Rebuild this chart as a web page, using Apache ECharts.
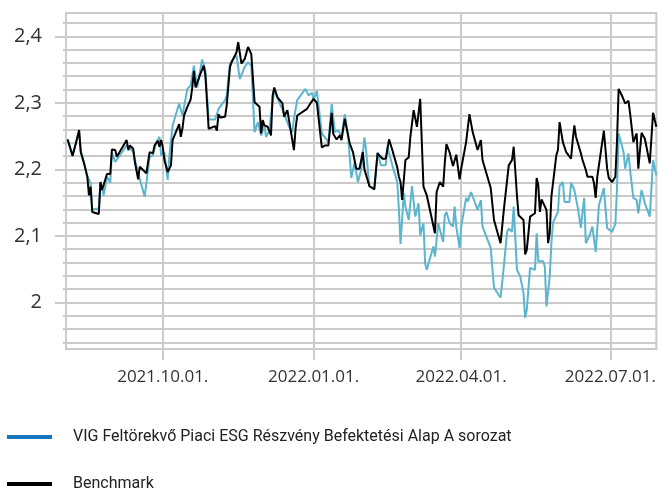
<!DOCTYPE html>
<html>
<head>
<meta charset="utf-8">
<script src="https://cdn.jsdelivr.net/npm/echarts@6/dist/echarts.min.js"></script>
<style>
html,body{margin:0;padding:0;background:#fff;}
#chart{width:659px;height:489px;}
</style>
</head>
<body>
<div id="chart"></div>
<script>
const fundName = 'VIG Feltörekvő Piaci ESG Részvény Befektetési Alap A sorozat';
const benchName = 'Benchmark';

const xTickDates = ['2021-10-01', '2022-01-01', '2022-04-01', '2022-07-01'];
const yLabelValues = [2, 2.1, 2.2, 2.3, 2.4];
const yGridValues = [1.94, 1.96, 1.98, 2.00, 2.02, 2.04, 2.06, 2.08, 2.10, 2.12, 2.14, 2.16, 2.18, 2.20,
  2.22, 2.24, 2.26, 2.28, 2.30, 2.32, 2.34, 2.36, 2.38, 2.40, 2.42];

const benchDates = [
'2021-08-04','2021-08-07','2021-08-09','2021-08-11','2021-08-12','2021-08-14','2021-08-16','2021-08-17','2021-08-18','2021-08-19',
'2021-08-23','2021-08-24','2021-08-25','2021-08-28','2021-08-30','2021-08-31','2021-09-02','2021-09-03','2021-09-09','2021-09-10',
'2021-09-11','2021-09-13','2021-09-14','2021-09-16','2021-09-17','2021-09-19','2021-09-21','2021-09-23','2021-09-25','2021-09-26',
'2021-09-28','2021-09-29','2021-09-30','2021-10-01','2021-10-02','2021-10-04','2021-10-06','2021-10-07','2021-10-09','2021-10-11',
'2021-10-12','2021-10-13','2021-10-14','2021-10-16','2021-10-18','2021-10-19','2021-10-20','2021-10-21','2021-10-24','2021-10-26',
'2021-10-27','2021-10-29','2021-11-02','2021-11-03','2021-11-04','2021-11-05','2021-11-08','2021-11-09','2021-11-10','2021-11-11',
'2021-11-12','2021-11-15','2021-11-16','2021-11-17','2021-11-18','2021-11-20','2021-11-22','2021-11-24','2021-11-26','2021-11-29',
'2021-11-30','2021-12-01','2021-12-02','2021-12-04','2021-12-06','2021-12-07','2021-12-08','2021-12-10','2021-12-13','2021-12-14',
'2021-12-15','2021-12-16','2021-12-20','2021-12-21','2021-12-22','2021-12-28','2021-12-29','2021-12-30','2022-01-01','2022-01-03',
'2022-01-06','2022-01-08','2022-01-10','2022-01-12','2022-01-13','2022-01-15','2022-01-17','2022-01-18','2022-01-20','2022-01-23',
'2022-01-25','2022-01-27','2022-01-29','2022-01-31','2022-02-01','2022-02-04','2022-02-07','2022-02-09','2022-02-12','2022-02-14',
'2022-02-16','2022-02-18','2022-02-21','2022-02-22','2022-02-23','2022-02-24','2022-02-26','2022-02-28','2022-03-01','2022-03-03',
'2022-03-05','2022-03-07','2022-03-09','2022-03-11','2022-03-16','2022-03-17','2022-03-19','2022-03-21','2022-03-22','2022-03-23',
'2022-03-25','2022-03-27','2022-03-29','2022-03-31','2022-04-01','2022-04-04','2022-04-06','2022-04-08','2022-04-11','2022-04-13',
'2022-04-14','2022-04-19','2022-04-21','2022-04-25','2022-04-27','2022-04-30','2022-05-02','2022-05-03','2022-05-05','2022-05-06',
'2022-05-09','2022-05-10','2022-05-11','2022-05-13','2022-05-16','2022-05-17','2022-05-18','2022-05-19','2022-05-20','2022-05-23',
'2022-05-24','2022-05-25','2022-05-26','2022-05-29','2022-05-30','2022-05-31','2022-06-01','2022-06-02','2022-06-04','2022-06-07',
'2022-06-08','2022-06-09','2022-06-10','2022-06-13','2022-06-14','2022-06-16','2022-06-17','2022-06-20','2022-06-21','2022-06-22',
'2022-06-23','2022-06-27','2022-06-29','2022-06-30','2022-07-02','2022-07-04','2022-07-05','2022-07-06','2022-07-08','2022-07-10',
'2022-07-12','2022-07-13','2022-07-15','2022-07-17','2022-07-18','2022-07-20','2022-07-22','2022-07-25','2022-07-27','2022-07-29'
];
const benchValues = [
2.245,2.220,2.239,2.259,2.226,2.209,2.189,2.161,2.174,2.136,
2.133,2.181,2.169,2.193,2.193,2.230,2.229,2.219,2.244,2.229,
2.236,2.231,2.211,2.185,2.204,2.199,2.194,2.226,2.224,2.236,
2.243,2.234,2.244,2.234,2.214,2.196,2.206,2.244,2.256,2.268,
2.249,2.261,2.281,2.294,2.305,2.323,2.348,2.323,2.344,2.356,
2.341,2.261,2.265,2.258,2.283,2.278,2.279,2.296,2.298,2.354,
2.361,2.376,2.391,2.394,2.359,2.366,2.384,2.373,2.301,2.294,
2.254,2.274,2.266,2.264,2.251,2.311,2.323,2.308,2.299,2.279,
2.279,2.289,2.229,2.261,2.281,2.291,2.291,2.299,2.306,2.300,
2.233,2.236,2.236,2.285,2.253,2.245,2.251,2.244,2.276,2.239,
2.226,2.201,2.201,2.226,2.200,2.175,2.170,2.224,2.216,2.216,
2.245,2.229,2.203,2.189,2.181,2.154,2.214,2.218,2.249,2.289,
2.264,2.306,2.174,2.161,2.104,2.166,2.181,2.174,2.210,2.238,
2.225,2.205,2.222,2.185,2.201,2.241,2.283,2.256,2.229,2.244,
2.214,2.172,2.124,2.089,2.139,2.206,2.214,2.234,2.161,2.131,
2.124,2.072,2.079,2.129,2.134,2.187,2.176,2.136,2.155,2.139,
2.089,2.104,2.159,2.221,2.229,2.271,2.269,2.241,2.226,2.216,
2.244,2.266,2.249,2.224,2.214,2.199,2.189,2.189,2.179,2.157,
2.189,2.258,2.201,2.187,2.181,2.189,2.241,2.321,2.311,2.299,
2.303,2.284,2.241,2.254,2.201,2.255,2.246,2.209,2.285,2.264
];

const fundDates = [
'2021-08-04','2021-08-07','2021-08-09','2021-08-11','2021-08-12','2021-08-14','2021-08-16','2021-08-18','2021-08-19','2021-08-23',
'2021-08-24','2021-08-26','2021-08-28','2021-08-30','2021-08-31','2021-09-02','2021-09-09','2021-09-11','2021-09-13','2021-09-14',
'2021-09-16','2021-09-20','2021-09-23','2021-09-25','2021-09-27','2021-09-29','2021-09-30','2021-10-02','2021-10-04','2021-10-05',
'2021-10-07','2021-10-11','2021-10-13','2021-10-16','2021-10-18','2021-10-20','2021-10-22','2021-10-25','2021-10-27','2021-10-29',
'2021-11-02','2021-11-04','2021-11-08','2021-11-09','2021-11-11','2021-11-13','2021-11-15','2021-11-17','2021-11-20','2021-11-22',
'2021-11-24','2021-11-26','2021-11-28','2021-11-30','2021-12-02','2021-12-03','2021-12-05','2021-12-06','2021-12-08','2021-12-11',
'2021-12-14','2021-12-17','2021-12-19','2021-12-20','2021-12-22','2021-12-27','2021-12-29','2021-12-31','2022-01-01','2022-01-03',
'2022-01-06','2022-01-10','2022-01-12','2022-01-14','2022-01-16','2022-01-18','2022-01-20','2022-01-22','2022-01-24','2022-01-26',
'2022-01-28','2022-01-30','2022-02-01','2022-02-02','2022-02-04','2022-02-07','2022-02-09','2022-02-11','2022-02-14','2022-02-15',
'2022-02-18','2022-02-21','2022-02-22','2022-02-23','2022-02-25','2022-02-26','2022-02-28','2022-03-02','2022-03-04','2022-03-06',
'2022-03-07','2022-03-09','2022-03-10','2022-03-11','2022-03-15','2022-03-16','2022-03-18','2022-03-21','2022-03-22','2022-03-23',
'2022-03-25','2022-03-27','2022-03-28','2022-03-29','2022-03-31','2022-04-01','2022-04-04','2022-04-05','2022-04-07','2022-04-11',
'2022-04-13','2022-04-14','2022-04-19','2022-04-21','2022-04-25','2022-04-27','2022-04-29','2022-04-30','2022-05-02','2022-05-03',
'2022-05-05','2022-05-07','2022-05-09','2022-05-10','2022-05-11','2022-05-13','2022-05-16','2022-05-17','2022-05-18','2022-05-21',
'2022-05-22','2022-05-23','2022-05-25','2022-05-26','2022-05-27','2022-05-30','2022-05-31','2022-06-02','2022-06-03','2022-06-06',
'2022-06-07','2022-06-09','2022-06-11','2022-06-13','2022-06-14','2022-06-15','2022-06-16','2022-06-18','2022-06-20','2022-06-22',
'2022-06-24','2022-06-27','2022-06-29','2022-07-02','2022-07-04','2022-07-05','2022-07-06','2022-07-09','2022-07-10','2022-07-12',
'2022-07-13','2022-07-15','2022-07-17','2022-07-18','2022-07-19','2022-07-20','2022-07-22','2022-07-25','2022-07-27','2022-07-29'
];
const fundValues = [
2.245,2.222,2.240,2.257,2.228,2.210,2.190,2.179,2.140,2.141,
2.181,2.161,2.189,2.180,2.225,2.211,2.236,2.232,2.226,2.224,
2.194,2.159,2.219,2.221,2.240,2.249,2.221,2.225,2.184,2.219,
2.266,2.299,2.281,2.321,2.326,2.356,2.323,2.365,2.349,2.275,
2.275,2.291,2.304,2.311,2.359,2.366,2.371,2.336,2.354,2.361,
2.356,2.256,2.271,2.251,2.266,2.249,2.258,2.281,2.319,2.301,
2.284,2.264,2.256,2.276,2.304,2.321,2.311,2.315,2.304,2.318,
2.254,2.241,2.298,2.256,2.259,2.249,2.283,2.251,2.187,2.211,
2.181,2.199,2.248,2.229,2.174,2.171,2.226,2.206,2.206,2.234,
2.206,2.181,2.140,2.088,2.164,2.144,2.124,2.175,2.129,2.149,
2.101,2.119,2.059,2.049,2.084,2.069,2.119,2.091,2.131,2.136,
2.119,2.114,2.144,2.114,2.082,2.114,2.157,2.152,2.166,2.139,
2.154,2.114,2.082,2.022,2.007,2.054,2.106,2.111,2.106,2.144,
2.049,2.039,2.014,1.977,1.989,2.052,2.049,2.104,2.062,2.062,
2.054,1.994,2.039,2.089,2.120,2.136,2.175,2.181,2.151,2.151,
2.180,2.169,2.144,2.112,2.136,2.157,2.089,2.099,2.114,2.076,
2.146,2.172,2.112,2.106,2.118,2.169,2.254,2.226,2.201,2.224,
2.199,2.157,2.154,2.134,2.131,2.169,2.149,2.129,2.214,2.191
];

function localTs(s) { return new Date(s + 'T00:00:00').getTime(); }
const tickTs = xTickDates.map(localTs);
const gridColor = '#cacaca';
const legendText = {fontFamily: 'Roboto', fontSize: 16, color: '#222', lineHeight: 20, padding: [0, 0, 0, 16]};

const chart = echarts.init(document.getElementById('chart'), null, {renderer: 'canvas'});
chart.setOption({
  animation: false,
  backgroundColor: '#fff',
  grid: {
    left: 66, right: 2, top: 13, bottom: 140,
    show: true, borderColor: gridColor, borderWidth: 2, backgroundColor: 'transparent'
  },
  xAxis: {
    type: 'value',
    min: localTs('2021-08-03'),
    max: localTs('2022-07-29'),
    axisLine: {show: true, lineStyle: {color: gridColor, width: 2}},
    axisTick: {show: true, customValues: tickTs, length: 11, lineStyle: {color: gridColor, width: 2}},
    splitLine: {show: true, lineStyle: {color: gridColor, width: 2}},
    axisLabel: {
      customValues: tickTs,
      margin: 20,
      color: '#333',
      fontFamily: 'Open Sans',
      fontSize: 17,
      formatter: function (v) {
        const d = new Date(v);
        const mm = String(d.getMonth() + 1).padStart(2, '0');
        const dd = String(d.getDate()).padStart(2, '0');
        return d.getFullYear() + '.' + mm + '.' + dd + '.';
      }
    }
  },
  yAxis: [
    {
      type: 'value', min: 1.93, max: 2.435, position: 'left',
      axisLine: {show: true, lineStyle: {color: gridColor, width: 2}},
      axisTick: {show: true, customValues: yGridValues, length: 3, lineStyle: {color: gridColor, width: 2}},
      splitLine: {show: true, lineStyle: {color: gridColor, width: 2}},
      axisLabel: {show: false}
    },
    {
      type: 'value', min: 1.93, max: 2.435, position: 'left', offset: 0,
      axisLine: {show: false},
      axisTick: {show: true, customValues: yLabelValues, length: 11, lineStyle: {color: gridColor, width: 2}},
      splitLine: {show: false},
      axisLabel: {
        show: true, customValues: yLabelValues, margin: 24,
        color: '#333', fontFamily: 'Open Sans', fontSize: 20,
        formatter: function (v) { return String(Math.round(v * 10) / 10).replace('.', ','); }
      }
    }
  ],
  legend: [
    {
      left: 7, top: 427, padding: 0,
      itemWidth: 45, itemHeight: 4,
      selectedMode: false,
      textStyle: legendText,
      data: [{name: fundName, icon: 'rect', itemStyle: {color: '#1a75bb'}}]
    },
    {
      left: 7, top: 474, padding: 0,
      itemWidth: 45, itemHeight: 4,
      selectedMode: false,
      textStyle: legendText,
      data: [{name: benchName, icon: 'rect', itemStyle: {color: '#000'}}]
    }
  ],
  series: [
    {
      name: fundName, type: 'line', yAxisIndex: 0,
      showSymbol: false, symbol: 'none',
      lineStyle: {color: '#5bb5cf', width: 2},
      itemStyle: {color: '#5bb5cf'},
      data: fundDates.map((d, i) => [localTs(d), fundValues[i]]),
      z: 2
    },
    {
      name: benchName, type: 'line', yAxisIndex: 0,
      showSymbol: false, symbol: 'none',
      lineStyle: {color: '#000', width: 2},
      itemStyle: {color: '#000'},
      data: benchDates.map((d, i) => [localTs(d), benchValues[i]]),
      z: 3
    }
  ]
});
</script>
</body>
</html>
